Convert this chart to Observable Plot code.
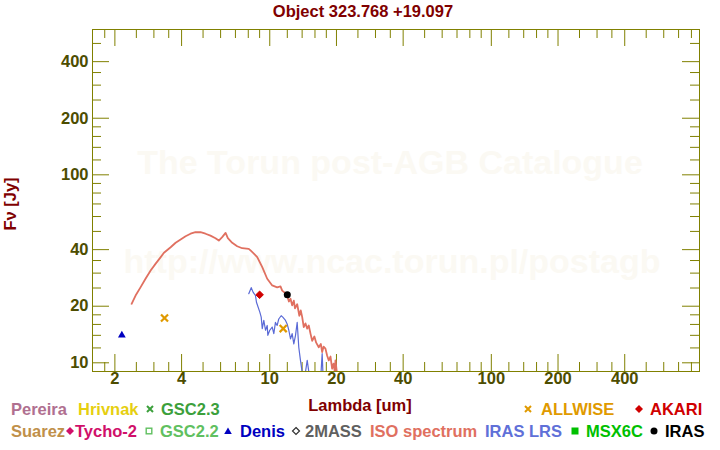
<!DOCTYPE html>
<html><head><meta charset="utf-8">
<script src="https://cdn.jsdelivr.net/npm/d3@7"></script>
<script src="https://cdn.jsdelivr.net/npm/@observablehq/plot@0.6"></script>
<style>
html,body{margin:0;padding:0;background:#fff;}
#wrap{position:relative;width:720px;height:450px;overflow:hidden;background:#fff;font-family:"Liberation Sans",Arial,Helvetica,sans-serif;font-weight:bold;font-size:16.5px;}
#chart{position:absolute;left:0;top:0;}
.lbl{position:absolute;white-space:nowrap;line-height:16px;}
.sym{position:absolute;}
</style></head><body><div id="wrap"><div id="chart"></div></div>
<script>
// ---------- data ----------
const titleText = "Object 323.768 +19.097";
const xLabel = "Lambda [um]";
const yLabel = "Fν [Jy]";
const watermark1 = "The Torun post-AGB Catalogue";
const watermark2 = "http://www.ncac.torun.pl/postagb";

const xMajor = [2, 4, 10, 20, 40, 100, 200, 400];
const xMinor = [1.8, 2.5, 3, 3.5, 5, 6, 7, 8, 9, 12, 14, 16, 18, 25, 30, 35, 50, 60, 70, 80, 90, 120, 140, 160, 180, 250, 300, 350, 500, 600, 700, 800];
const yMajor = [10, 20, 40, 100, 200, 400];
const yMinor = [12, 14, 16, 18, 25, 30, 35, 50, 60, 70, 80, 90, 120, 140, 160, 180, 250, 300, 350, 500];

// ISO spectrum (um, Jy)
const isoWave = [2.38,2.48,2.61,2.75,2.90,3.05,3.22,3.33,3.57,3.76,3.96,4.17,4.39,4.62,4.87,5.13,5.40,5.69,5.89,6.10,6.32,6.47,6.77,7.13,7.51,8.04,8.19,8.50,8.78,9.25,9.74,10.26,10.80,11.18,11.38,11.70,11.98,12.20,12.41,12.62,12.84,13.00,13.30,13.60,13.80,14.01,14.24,14.50,14.76,15.00,15.27,15.54,15.90,16.20,16.64,17.00,17.24,17.50,17.84,18.16,18.47,18.80,19.12,19.40,19.65,19.80,20.10];
const isoFlux = [20.6,22.8,25.2,28.0,31.0,33.6,36.5,38.5,41.2,43.5,45.3,47.1,48.6,49.5,49.5,48.6,47.5,46.0,44.7,46.6,49.1,46.0,43.5,41.7,40.7,40.4,39.6,38.0,36.5,32.3,28.0,25.8,25.2,25.5,24.2,23.6,22.8,21.2,21.9,20.2,21.4,19.5,20.5,17.8,19.0,17.5,15.5,16.2,15.2,15.8,14.3,13.1,13.8,12.8,12.1,12.6,11.4,12.2,11.9,10.9,10.3,10.8,9.3,9.9,9.0,10.3,8.8];

// IRAS LRS spectrum (um, Jy)
const lrsWave = [8.04,8.25,8.42,8.62,8.71,9.02,9.15,9.25,9.40,9.57,9.74,9.80,10.00,10.26,10.43,10.61,10.80,10.98,11.26,11.45,11.78,11.98,12.19,12.41,12.62,12.84,13.07,13.30,13.52,13.76,14.01,14.40,14.76,15.10,16.00,17.00,17.24,17.40,18.00];
const lrsFlux = [23.3,25.1,23.7,22.8,21.0,18.6,17.5,15.2,16.8,14.9,15.8,14.0,14.9,15.5,14.3,16.4,15.8,17.1,17.8,17.5,16.8,16.1,14.9,13.4,14.3,12.6,14.0,16.4,12.1,10.3,8.9,8.5,10.3,8.5,8.5,8.5,11.2,8.5,8.5];

// photometry
const denisWave = [2.15],  denisFlux = [14.0];
const allwiseWave = [3.35, 11.5], allwiseFlux = [17.3, 15.2];
const akariWave = [9.0], akariFlux = [23.0];
const irasWave = [12.0], irasFlux = [23.0];

// legend
const legendRow1 = [
  {name:"Pereira", color:"#b07090", sym:null},
  {name:"Hrivnak", color:"#e6cf10", sym:null},
  {name:"GSC2.3", color:"#3ca03c", sym:"times"},
  {name:"ALLWISE", color:"#e09a00", sym:"times"},
  {name:"AKARI", color:"#d00000", sym:"diamond"}
];
const legendRow2 = [
  {name:"Suarez", color:"#c0904a", sym:null},
  {name:"Tycho-2", color:"#d0106a", sym:"diamond"},
  {name:"GSC2.2", color:"#60c060", sym:"opensquare"},
  {name:"Denis", color:"#0000c0", sym:"triangle"},
  {name:"2MASS", color:"#606060", sym:"opendiamond"},
  {name:"ISO spectrum", color:"#e07060", sym:null},
  {name:"IRAS LRS", color:"#6070d8", sym:null},
  {name:"MSX6C", color:"#00c000", sym:"square"},
  {name:"IRAS", color:"#000000", sym:"circle"}
];

// ---------- layout ----------
const OLIVE = "#808000", TICKTXT = "#4d4d00", DARKRED = "#800000";
const ML = 92, MR = 21, MT = 29, MB = 79, WIDTH = 720, HEIGHT = 450;
const FW = WIDTH - ML - MR, FH = HEIGHT - MT - MB;
const legendPos1 = [{x:11,s:null},{x:78,s:null},{x:161,s:150},{x:541,s:528},{x:650,s:639}];
const legendPos2 = [{x:11,s:null},{x:75,s:70},{x:160,s:149},{x:240,s:228},{x:305,s:296},{x:370,s:null},{x:485,s:null},{x:586,s:575},{x:665,s:654}];

const iso = isoWave.map((w,i)=>({w, f: isoFlux[i]}));
const lrs = lrsWave.map((w,i)=>({w, f: lrsFlux[i]}));
const pts = (W,F)=>W.map((w,i)=>({w, f:F[i]}));

const xTicks = (vals, len) => [
  Plot.tickX(vals, {x: d=>d, stroke: OLIVE, insetTop: FH - len}),
  Plot.tickX(vals, {x: d=>d, stroke: OLIVE, insetBottom: FH - len})
];
const yTicks = (vals, len) => [
  Plot.tickY(vals, {y: d=>d, stroke: OLIVE, insetRight: FW - len}),
  Plot.tickY(vals, {y: d=>d, stroke: OLIVE, insetLeft: FW - len})
];

const chart = Plot.plot({
  width: WIDTH, height: HEIGHT,
  marginLeft: ML, marginRight: MR, marginTop: MT, marginBottom: MB,
  x: {type: "log", domain: [1.585, 870], axis: null},
  y: {type: "log", domain: [8.99, 593], axis: null},
  style: {background: "transparent", overflow: "visible"},
  marks: [
    Plot.text([watermark1], {text: d=>d, frameAnchor: "middle", dx: -6, dy: -37, fontSize: 34, fontWeight: "bold", fontFamily: "Liberation Sans, Arial, sans-serif", fill: "#fbf9f3"}),
    Plot.text([watermark2], {text: d=>d, frameAnchor: "middle", dx: -4, dy: 62, fontSize: 34, fontWeight: "bold", fontFamily: "Liberation Sans, Arial, sans-serif", fill: "#fbf9f3"}),
    Plot.frame({stroke: OLIVE}),
    ...xTicks(xMajor, 17), ...xTicks(xMinor, 9),
    ...yTicks(yMajor, 17), ...yTicks(yMinor, 9),
    Plot.line(iso, {x: "w", y: "f", stroke: "#e07060", strokeWidth: 1.8, clip: "frame"}),
    Plot.line(lrs, {x: "w", y: "f", stroke: "#5a6ad6", strokeWidth: 1.2, clip: "frame"}),
    Plot.dot(pts(denisWave, denisFlux), {x: "w", y: "f", symbol: "triangle", r: 2.9, fill: "#0000c0"}),
    Plot.dot(pts(allwiseWave, allwiseFlux), {x: "w", y: "f", symbol: "times", r: 3.3, stroke: "#e09a00", strokeWidth: 2.2}),
    Plot.dot(pts(akariWave, akariFlux), {x: "w", y: "f", symbol: "diamond2", r: 3.4, fill: "#d00000", stroke: "#d00000", strokeWidth: 1}),
    Plot.dot(pts(irasWave, irasFlux), {x: "w", y: "f", symbol: "circle", r: 3.5, fill: "#000000"}),
    Plot.text(xMajor, {x: d=>d, text: d=>String(d), frameAnchor: "bottom", dy: 12, fontSize: 16.5, fontWeight: "bold", fontFamily: "Liberation Sans, Arial, sans-serif", fill: TICKTXT}),
    Plot.text(yMajor, {y: d=>d, text: d=>String(d), frameAnchor: "left", dx: -4, textAnchor: "end", fontSize: 16.5, fontWeight: "bold", fontFamily: "Liberation Sans, Arial, sans-serif", fill: TICKTXT})
  ]
});
document.getElementById("chart").appendChild(chart);

// ---------- html text ----------
const wrap = document.getElementById("wrap");
function addText(txt, color, left, top, extra) {
  const d = document.createElement("div");
  d.className = "lbl"; d.textContent = txt; d.style.color = color;
  d.style.left = left + "px"; d.style.top = top + "px";
  if (extra) Object.assign(d.style, extra);
  wrap.appendChild(d); return d;
}
addText(titleText, DARKRED, 0, 3, {width: "726px", textAlign: "center"});
addText(xLabel, DARKRED, 0, 397, {width: "720px", textAlign: "center"});
addText(yLabel, DARKRED, -40, 196, {width: "100px", textAlign: "center", transform: "rotate(-90deg)"});

function symSvg(kind, color) {
  const ns = "http://www.w3.org/2000/svg";
  const s = document.createElementNS(ns, "svg");
  s.setAttribute("width", 10); s.setAttribute("height", 10); s.setAttribute("viewBox", "-5 -5 10 10");
  let el;
  if (kind === "times") { el = document.createElementNS(ns, "path"); el.setAttribute("d", "M-3,-3L3,3M-3,3L3,-3"); el.setAttribute("stroke", color); el.setAttribute("stroke-width", 2); el.setAttribute("fill", "none"); }
  else if (kind === "diamond") { el = document.createElementNS(ns, "path"); el.setAttribute("d", "M0,-4L4,0L0,4L-4,0Z"); el.setAttribute("fill", color); }
  else if (kind === "opendiamond") { el = document.createElementNS(ns, "path"); el.setAttribute("d", "M0,-3.5L3.5,0L0,3.5L-3.5,0Z"); el.setAttribute("fill", "none"); el.setAttribute("stroke", "#303030"); el.setAttribute("stroke-width", 1.2); }
  else if (kind === "opensquare") { el = document.createElementNS(ns, "rect"); el.setAttribute("x", -2.8); el.setAttribute("y", -2.8); el.setAttribute("width", 5.6); el.setAttribute("height", 5.6); el.setAttribute("fill", "none"); el.setAttribute("stroke", color); el.setAttribute("stroke-width", 1.4); }
  else if (kind === "square") { el = document.createElementNS(ns, "rect"); el.setAttribute("x", -3.5); el.setAttribute("y", -3.5); el.setAttribute("width", 7); el.setAttribute("height", 7); el.setAttribute("fill", color); }
  else if (kind === "triangle") { el = document.createElementNS(ns, "path"); el.setAttribute("d", "M0,-3.5L3.8,3L-3.8,3Z"); el.setAttribute("fill", color); }
  else if (kind === "circle") { el = document.createElementNS(ns, "circle"); el.setAttribute("r", 3.5); el.setAttribute("fill", color); }
  s.appendChild(el); return s;
}
function addLegendRow(items, pos, cy) {
  items.forEach((it, i) => {
    addText(it.name, it.color, pos[i].x, cy - 8);
    if (it.sym) {
      const s = symSvg(it.sym, it.color);
      s.setAttribute("class", "sym");
      s.style.left = (pos[i].s - 5) + "px"; s.style.top = (cy - 5) + "px";
      wrap.appendChild(s);
    }
  });
}
addLegendRow(legendRow1, legendPos1, 409);
addLegendRow(legendRow2, legendPos2, 431);
</script></body></html>
